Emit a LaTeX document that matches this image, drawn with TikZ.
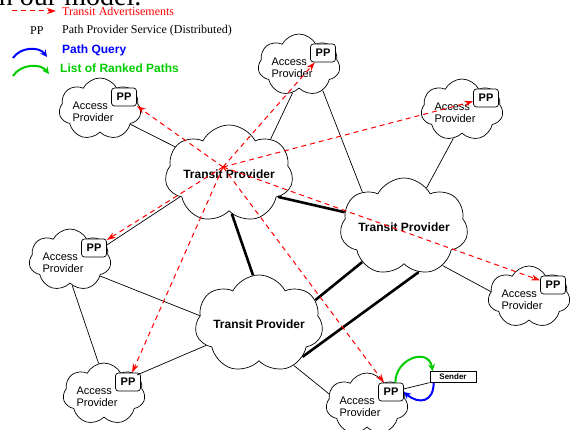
\documentclass[tikz,border=0pt]{standalone}
\usepackage{fontspec}
\setmainfont{Liberation Serif}
\setsansfont{Liberation Sans}
\usetikzlibrary{arrows.meta,shapes.symbols}
\definecolor{lgreen}{RGB}{0,205,0}

\begin{document}
\begin{tikzpicture}
  [x=1pt,y=-1pt,
   apcloud/.style={cloud,cloud puffs=7,cloud puff arc=125,cloud ignores aspect,draw,fill=white,
     line width=.7pt,minimum width=82pt,minimum height=62pt,inner sep=0pt},
   tpcloud/.style={apcloud,minimum width=128pt,minimum height=98pt,
     font=\sffamily\bfseries\fontsize{12}{14}\selectfont},
   aptext/.style={font=\sffamily\fontsize{11}{12.5}\selectfont,align=left,inner sep=0pt},
   ppbox/.style={draw,rounded corners=3pt,fill=white,line width=.7pt,inner sep=0pt,
     minimum width=25pt,minimum height=18pt,font=\sffamily\bfseries\fontsize{11}{12}\selectfont},
   link/.style={line width=.7pt},
   trunk/.style={line width=2.6pt},
   advert/.style={red,line width=1pt,dash pattern=on 5pt off 4pt,
     -{Stealth[length=9pt,width=6pt]}},
   query/.style={blue,line width=2pt,-{Stealth[length=7pt,width=7pt]}},
   ranked/.style={lgreen,line width=2pt,-{Stealth[length=7pt,width=7pt]}},
   legtext/.style={anchor=west,inner sep=0pt,font=\fontsize{12}{14}\selectfont},
   legbold/.style={anchor=west,inner sep=0pt,font=\sffamily\bfseries\fontsize{12}{14}\selectfont}]

  \useasboundingbox (0,0) rectangle (575,430);

  % cut-off heading
  \node[anchor=base west,inner sep=0pt,font=\fontsize{28}{32}\selectfont] (head) at (-9,6) {in our model.};

  % legend
  \coordinate (ta1) at (12,11);
  \coordinate (ta2) at (56,11);
  \draw[advert] (ta1) -- (ta2);
  \node[legtext,text=red] (lta) at (62,11) {Transit Advertisements};
  \node[legtext] (lpp) at (30,31) {PP};
  \node[legtext] (lppd) at (62,31) {Path Provider Service (Distributed)};
  \coordinate (pq1) at (13,58);
  \coordinate (pq2) at (47,57);
  \draw[query] (pq1) to[bend left=55] (pq2);
  \node[legbold,text=blue] (lpq) at (62,50) {Path Query};
  \coordinate (rp1) at (13,76);
  \coordinate (rp2) at (49,74);
  \draw[ranked] (rp1) to[bend left=55] (rp2);
  \node[legbold,text=lgreen] (lrp) at (60,68) {List of Ranked Paths};

  % transit providers
  \node[tpcloud] (tp1) at (229,174) {Transit Provider};
  \node[tpcloud] (tp2) at (404,227) {Transit Provider};
  \node[tpcloud] (tp3) at (259,324) {Transit Provider};

  % access providers
  \foreach \n/\x/\y in {1/100/109, 2/299/65, 3/462/110, 4/70/260,
                        5/529/297, 6/104/394, 7/367/404} {
    \node[apcloud] (ap\n) at (\x,\y) {};
    \node[aptext] (at\n) at (\x-7,\y+3) {Access\\Provider};
    \node[ppbox] (pp\n) at (\x+24,\y-12) {PP};
  }

  % access links
  \draw[link] (ap1) -- (tp1);
  \draw[link] (ap2.257) -- (tp1.40);
  \draw[link] (ap2.-47) -- (tp2.140);
  \draw[link] (ap3.253) -- (tp2.60);
  \draw[link] (ap4.22) -- (tp1.205);
  \draw[link] (ap4.-28) -- (tp3.172);
  \draw[link] (ap4.-85) -- (ap6.100);
  \draw[link] (ap6.30) -- (tp3.202);
  \draw[link] (tp3.-50) -- (ap7.165);
  \draw[link] (tp2.-45) -- (ap5.172);

  % transit links
  \draw[trunk] (tp1.-25) -- (tp2.166);
  \draw[trunk] (tp1.-86) -- (tp3.97);
  \draw[trunk] (tp2.220) -- (tp3.23);
  \draw[trunk] (tp2.-72) -- (tp3.-37);

  % sender
  \node[draw,fill=white,line width=.7pt,minimum width=46pt,minimum height=11pt,inner sep=0pt,
        font=\sffamily\bfseries\fontsize{8}{9}\selectfont] (sender) at (453,377) {Sender};
  \draw[link] (pp7) -- (sender);
  \draw[ranked] (pp7.65) to[out=90,in=100,looseness=1.6] ([xshift=3pt]sender.north west);
  \draw[query] ([xshift=4pt]sender.south west) to[out=-90,in=-40,looseness=1.6] (pp7.east);

  % transit advertisements
  \coordinate (hub) at (223,167);
  \foreach \to in {pp1,pp2,pp3,pp4,pp5,pp6,pp7}
    \draw[advert] (hub) -- (\to);

\end{tikzpicture}
\end{document}
